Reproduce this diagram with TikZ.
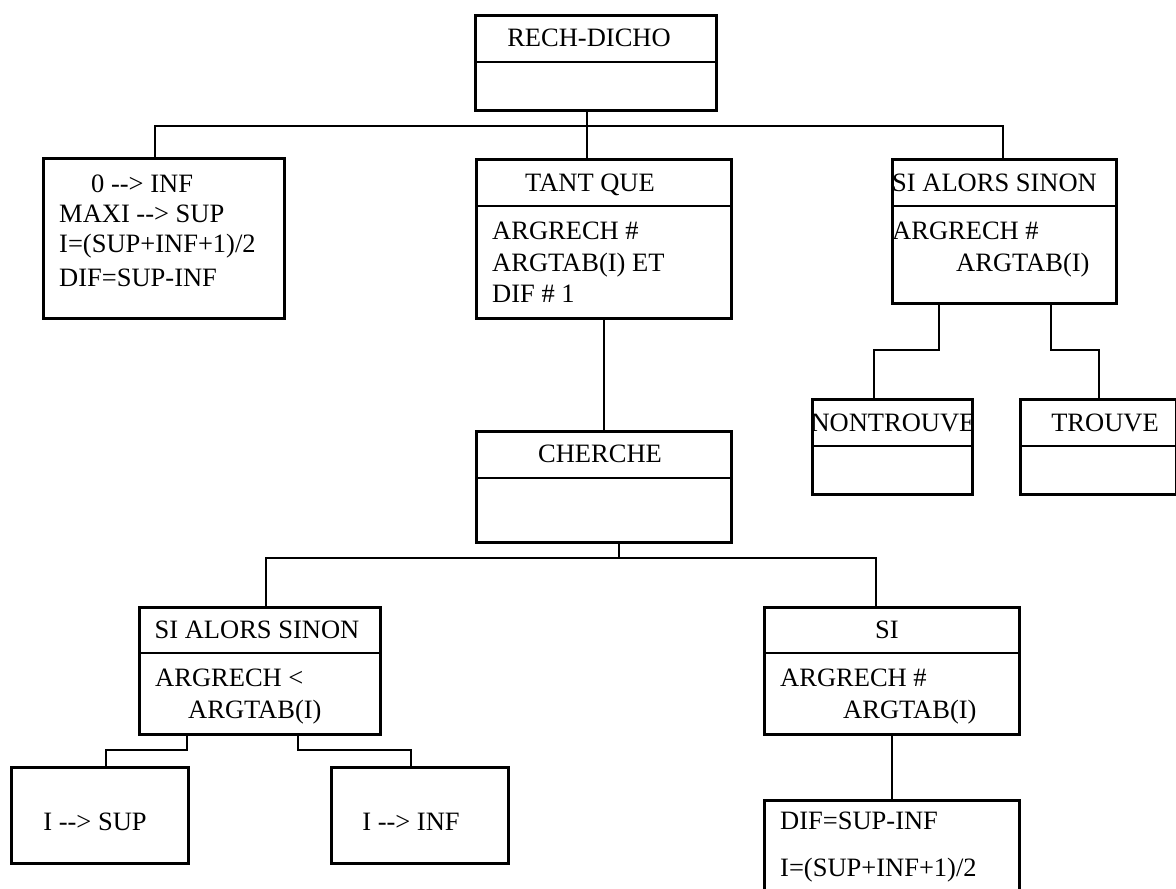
\documentclass[tikz,border=0pt]{standalone}
\usepackage{fontspec}
\setmainfont{Liberation Serif}
\begin{document}
\begin{tikzpicture}[x=1pt,y=-1pt,
  box/.style={draw, line width=3pt, rectangle, inner sep=0pt, anchor=north west},
  link/.style={line width=2.7pt},
  txt/.style={inner sep=0pt, font=\fontsize{26.5}{30}\selectfont},
  ltxt/.style={txt, anchor=base west},
  ctxt/.style={txt, anchor=base}]
\useasboundingbox (0,0) rectangle (1176,889);
\clip (0,0) rectangle (1176,889);

% boxes: (left, top), width x height
\node[box, minimum width=241, minimum height=95] (rech)    at (474,14)  {};
\node[box, minimum width=241, minimum height=160] (init)   at (42,157)  {};
\node[box, minimum width=255, minimum height=159] (tant)   at (475,158) {};
\node[box, minimum width=224, minimum height=144] (sias)   at (891,158) {};
\node[box, minimum width=160, minimum height=95] (nontr)   at (811,398) {};
\node[box, minimum width=156, minimum height=95] (trouve)  at (1019,398) {};
\node[box, minimum width=255, minimum height=111] (cherche) at (475,430) {};
\node[box, minimum width=241, minimum height=127] (siasl)  at (138,606) {};
\node[box, minimum width=255, minimum height=127] (si)     at (763,606) {};
\node[box, minimum width=177, minimum height=96] (isup)    at (10,766)  {};
\node[box, minimum width=177, minimum height=96] (iinf)    at (330,766) {};
\node[box, minimum width=255, minimum height=120] (dif)    at (763,799) {};

% header dividers
\draw[link] (rech.west |- 0,62)    -- (rech.east |- 0,62);
\draw[link] (tant.west |- 0,206)   -- (tant.east |- 0,206);
\draw[link] (sias.west |- 0,206)   -- (sias.east |- 0,206);
\draw[link] (nontr.west |- 0,446)  -- (nontr.east |- 0,446);
\draw[link] (trouve.west |- 0,446) -- (trouve.east |- 0,446);
\draw[link] (cherche.west |- 0,478) -- (cherche.east |- 0,478);
\draw[link] (siasl.west |- 0,653)  -- (siasl.east |- 0,653);
\draw[link] (si.west |- 0,653)     -- (si.east |- 0,653);

% connectors
\coordinate (b1l) at (155,126);
\coordinate (b1c) at (587,126);
\coordinate (b1r) at (1003,126);
\draw[link] (rech.south -| b1c) -- (tant.north -| b1c);
\draw[link] (init.north -| b1l) -- (b1l) -- (b1r) -- (sias.north -| b1r);

\draw[link] (tant.south) -- (cherche.north);

\coordinate (b2l) at (266,558);
\coordinate (b2c) at (619,558);
\coordinate (b2r) at (876,558);
\draw[link] (cherche.south -| b2c) -- (b2c);
\draw[link] (siasl.north -| b2l) -- (b2l) -- (b2r) -- (si.north -| b2r);

\coordinate (s1a) at (939,350);
\coordinate (s1b) at (874,350);
\coordinate (s2a) at (1051,350);
\coordinate (s2b) at (1099,350);
\draw[link] (sias.south -| s1a) -- (s1a) -- (s1b) -- (nontr.north -| s1b);
\draw[link] (sias.south -| s2a) -- (s2a) -- (s2b) -- (trouve.north -| s2b);

\coordinate (l1a) at (187,750);
\coordinate (l1b) at (106,750);
\coordinate (l2a) at (298,750);
\coordinate (l2b) at (411,750);
\draw[link] (siasl.south -| l1a) -- (l1a) -- (l1b) -- (isup.north -| l1b);
\draw[link] (siasl.south -| l2a) -- (l2a) -- (l2b) -- (iinf.north -| l2b);

\draw[link] (si.south) -- (dif.north);

% texts
\node[ctxt] (t-rech) at (589,46) {RECH-DICHO};

\node[ltxt] (t-init1) at (91,192) {0 {-}{-}> INF};
\node[ltxt] (t-init2) at (59,222) {MAXI {-}{-}> SUP};
\node[ltxt] (t-init3) at (59,252) {I=(SUP+INF+1)/2};
\node[ltxt] (t-init4) at (59,286) {DIF=SUP-INF};

\node[ctxt] (t-tant) at (590,191) {TANT QUE};
\node[ltxt] (t-tant1) at (492,239) {ARGRECH \#};
\node[ltxt] (t-tant2) at (492,271) {ARGTAB(I) ET};
\node[ltxt] (t-tant3) at (492,302) {DIF \# 1};

\node[ltxt] (t-sias) at (892,191) {SI ALORS SINON};
\node[ltxt] (t-sias1) at (892,239) {ARGRECH \#};
\node[ltxt] (t-sias2) at (956,271) {ARGTAB(I)};

\node[ctxt] (t-nontr) at (893,431) {NONTROUVE};
\node[ctxt] (t-trouve) at (1105,431) {TROUVE};

\node[ctxt] (t-cherche) at (600,462) {CHERCHE};

\node[ctxt] (t-siasl) at (257,638) {SI ALORS SINON};
\node[ltxt] (t-siasl1) at (155,686) {ARGRECH <};
\node[ltxt] (t-siasl2) at (188,718) {ARGTAB(I)};

\node[ctxt] (t-si) at (887,638) {SI};
\node[ltxt] (t-si1) at (780,686) {ARGRECH \#};
\node[ltxt] (t-si2) at (843,718) {ARGTAB(I)};

\node[ctxt] (t-isup) at (95,830) {I {-}{-}> SUP};
\node[ctxt] (t-iinf) at (411,830) {I {-}{-}> INF};

\node[ltxt] (t-dif1) at (780,829) {DIF=SUP-INF};
\node[ltxt] (t-dif2) at (780,876) {I=(SUP+INF+1)/2};
\end{tikzpicture}
\end{document}
